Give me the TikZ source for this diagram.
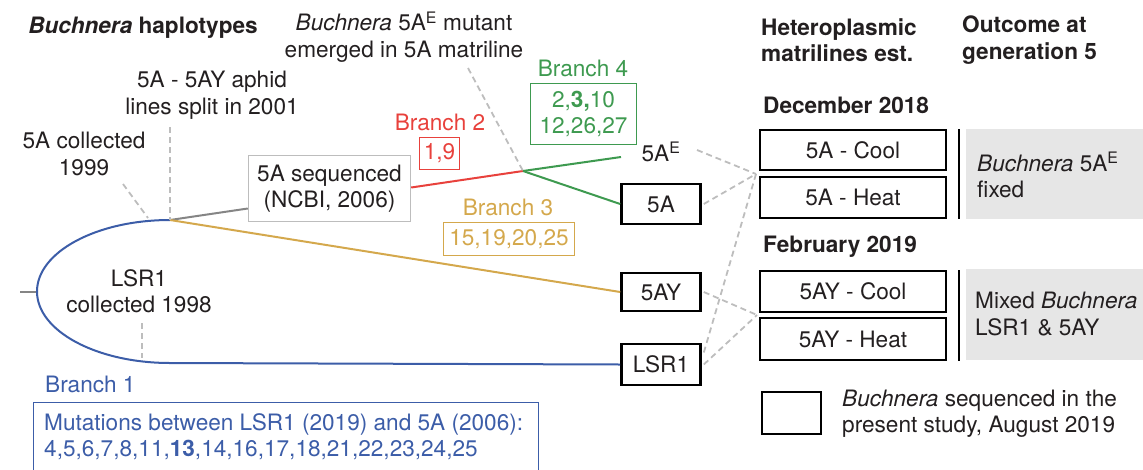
\documentclass[tikz,border=0pt]{standalone}
\usepackage{fontspec}
\setmainfont{TeX Gyre Heros}
\newcommand\myfs{\fontsize{22.6}{26.5}\selectfont}
\definecolor{bblue}{HTML}{3C5DA8}
\definecolor{bred}{HTML}{E8413C}
\definecolor{bgreen}{HTML}{3E9A50}
\definecolor{bgold}{HTML}{D4A84C}
\definecolor{dgray}{HTML}{BDBDBD}
\definecolor{lfill}{HTML}{E6E6E6}
\definecolor{txt}{HTML}{231F20}
\definecolor{stubgray}{HTML}{858585}
\begin{document}
\begin{tikzpicture}[x=1pt,y=-1pt,
  every node/.style={font=\myfs, text=txt, inner sep=0pt},
  seq/.style={draw=black, line width=2.6pt, minimum width=79pt},
  trt/.style={draw=black, line width=2.4pt, minimum width=186pt},
  cbox/.style={draw, line width=1.4pt},
  gdash/.style={draw=dgray, line width=1.8pt, dash pattern=on 6pt off 4pt},
  tree/.style={line width=2pt},
  hdr/.style={font=\myfs\bfseries, anchor=west, align=left}]
\useasboundingbox (0,0) rectangle (1143,469);

% ---------- labels ----------
\node (title) at (143,28) {\textbf{\textit{Buchnera} haplotypes}};
\node[align=center] (mutlab) at (404,37) {\textit{Buchnera} 5A\textsuperscript{E} mutant\\emerged in 5A matriline};
\node[align=center] (splitlab) at (212,95) {5A - 5AY aphid\\lines split in 2001};
\node[align=center] (col99) at (84,154) {5A collected\\1999};
\node[align=center] (col98) at (139,291) {LSR1\\collected 1998};

\node[draw=dgray, line width=1.4pt, minimum width=162pt, minimum height=66pt, align=center] (ncbi) at (329.5,188.5) {5A sequenced\\(NCBI, 2006)};

\node[text=bred] (b2) at (440,122) {Branch 2};
\node[cbox, draw=bred, text=bred, minimum width=40pt, minimum height=32pt] (m2) at (439.5,153.5) {1,9};
\node[text=bgreen] (b4) at (583,68) {Branch 4};
\node[cbox, draw=bgreen, text=bgreen, minimum width=106pt, minimum height=61pt, align=center] (m4) at (583.5,114) {2,\textbf{3,}10\\12,26,27};
\node[text=bgold] (b3) at (508,207) {Branch 3};
\node[cbox, draw=bgold, text=bgold, minimum width=131pt, minimum height=33pt] (m3) at (509,239) {15,19,20,25};

\node (s5AE) at (661,152) {5A\textsuperscript{E}};
\node[seq, minimum height=40pt] (s5A) at (661,204) {5A};
\node[seq, minimum height=38pt] (s5AY) at (661,292) {5AY};
\node[seq, minimum height=41pt] (sLSR) at (661,364.5) {LSR1};

\node[text=bblue, anchor=west] (b1) at (45,384) {Branch 1};
\node[draw=bblue, line width=1.4pt, minimum width=505pt, minimum height=80pt, anchor=north west] (m1) at (33,402) {};
\node[text=bblue, anchor=north west, align=left] (m1t) at (44,413) {Mutations between LSR1 (2019) and 5A (2006):\\4,5,6,7,8,11,\textbf{13},14,16,17,18,21,22,23,24,25};

% ---------- tree ----------
\coordinate (j1) at (170,220);
\coordinate (j2) at (523,171);
\coordinate (root) at (20,291.5);
\coordinate (lft) at (37,291.5);
\coordinate (e5AE) at (621,157);

\draw[stubgray, tree] (root) -- (lft);
\draw[bblue, tree] (j1) arc[start angle=270, end angle=90, x radius=133, y radius=71.5] -- (sLSR.west);
\draw[stubgray, tree] (j1) -- ([yshift=-20pt]ncbi.west);
\draw[bred, tree] ([yshift=1pt]ncbi.east) -- (j2);
\draw[bgreen, tree] (j2) -- (e5AE);
\draw[bgreen, tree] (j2) -- (s5A.west);
\draw[bgold, tree] (j1) -- (s5AY.west);

% ---------- pointers ----------
\coordinate (mutptr) at (468,68);
\coordinate (splitptr) at (170,127);
\coordinate (c99a) at (123,184);
\coordinate (c99b) at (148,218);
\coordinate (c98a) at (142,323);
\coordinate (c98b) at (142,358);
\coordinate (decp) at (756,174);
\coordinate (febp) at (757,315);
\coordinate (e5AEr) at (697,150);

\draw[gdash] (mutptr) -- (j2);
\draw[gdash] (splitptr) -- (j1);
\draw[gdash] (c99a) -- (c99b);
\draw[gdash] (c98a) -- (c98b);
\draw[gdash] (e5AEr) -- (decp);
\draw[gdash] ([xshift=2pt]s5A.east) -- (decp);
\draw[gdash] ([xshift=2pt,yshift=12pt]sLSR.east) -- (decp);
\draw[gdash] ([xshift=2pt]s5AY.east) -- (febp);
\draw[gdash] ([xshift=2pt]sLSR.east) -- (febp);

% ---------- right panel ----------
\node[hdr] (hdr1) at (761,40) {Heteroplasmic\\matrilines est.};
\node[hdr] (hdr2) at (962,40) {Outcome at\\generation 5};
\node[hdr] (dec) at (763,105) {December 2018};
\node[trt, minimum height=40pt] (cool1) at (853,150) {5A - Cool};
\node[trt, minimum height=41pt] (heat1) at (853,197.5) {5A - Heat};
\node[fill=lfill, minimum width=177pt, minimum height=90pt, anchor=north west] (out1) at (966,129) {};
\draw[line width=2.6pt] (959,129) -- (959,219);
\node[anchor=west, align=left] (out1t) at (977,175) {\textit{Buchnera} 5A\textsuperscript{E}\\fixed};

\node[hdr] (feb) at (763,247) {February 2019};
\node[trt, minimum height=41pt] (cool2) at (853,291.5) {5AY - Cool};
\node[trt, minimum height=42pt] (heat2) at (853,339) {5AY - Heat};
\node[fill=lfill, minimum width=177pt, minimum height=91pt, anchor=north west] (out2) at (966,269) {};
\draw[line width=2.6pt] (959,270) -- (959,361);
\node[anchor=west, align=left] (out2t) at (975,314) {Mixed \textit{Buchnera}\\LSR1 \& 5AY};

\node[seq, minimum width=59pt, minimum height=42pt] (leg) at (791.5,413) {};
\node[anchor=west, align=left] (legt) at (842,413.5) {\textit{Buchnera} sequenced in the\\present study, August 2019};
\end{tikzpicture}
\end{document}
